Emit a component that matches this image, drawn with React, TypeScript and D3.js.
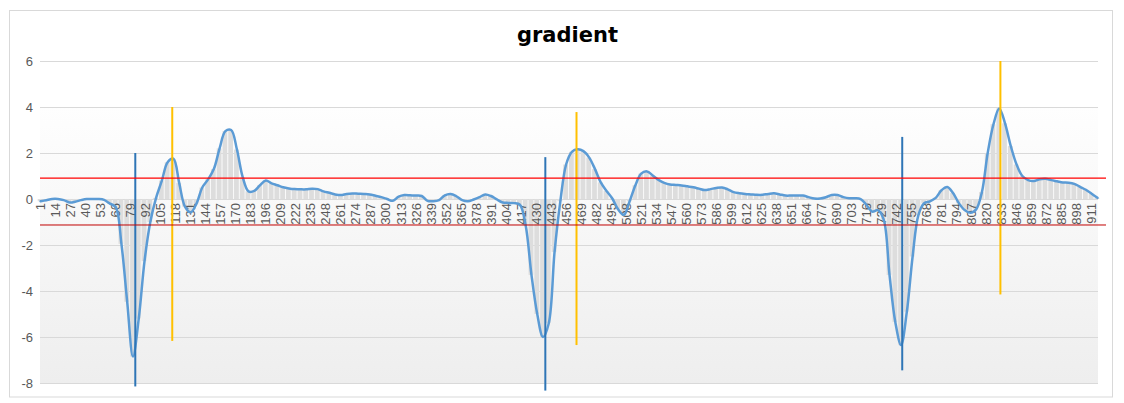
import React from "react";
import * as d3 from "d3";

// gradient values, one sample every 5 categories (categories 1, 6, 11, ... 916)
const sampleStep = 5;
const gradientValues = [
  -0.1, -0.05, 0, 0, -0.05, -0.15, -0.12, -0.05, 0, 0,
  0, -0.04, -0.2, -0.35, -1.95, -4.47, -6.85, -5.2, -2.7, -1.0,
  0.05, 0.8, 1.6, 1.75, 0.7, -0.33, -0.58, -0.2, 0.5, 0.85,
  1.3, 2.2, 2.95, 3.0, 2.15, 0.95, 0.33, 0.35, 0.6, 0.8,
  0.68, 0.6, 0.51, 0.46, 0.43, 0.42, 0.42, 0.45, 0.43, 0.33,
  0.27, 0.2, 0.17, 0.22, 0.24, 0.23, 0.22, 0.2, 0.14, 0.08,
  0.0, -0.08, 0.1, 0.17, 0.16, 0.15, 0.13, -0.08, -0.1, -0.05,
  0.16, 0.22, 0.12, -0.05, -0.1, -0.02, 0.08, 0.2, 0.13, -0.02,
  -0.15, -0.17, -0.18, -0.25, -1.15, -3.3, -5.0, -6.0, -5.4, -2.3,
  -0.1, 1.5, 2.05, 2.16, 2.08, 1.8, 1.3, 0.72, 0.35, 0.02,
  -0.45, -0.7, -0.1, 0.6, 1.1, 1.2, 1.02, 0.83, 0.7, 0.63,
  0.61, 0.59, 0.55, 0.51, 0.45, 0.39, 0.43, 0.48, 0.5, 0.42,
  0.3, 0.25, 0.22, 0.2, 0.18, 0.18, 0.22, 0.25, 0.2, 0.15,
  0.15, 0.15, 0.15, 0.08, 0.02, 0.02, 0.08, 0.17, 0.17, 0.08,
  0.03, 0.03, 0.0, -0.25, -0.55, -0.48, -0.9, -3.3, -5.35, -6.35,
  -4.9, -2.5, -0.7, -0.18, -0.1, 0.05, 0.38, 0.52, 0.26, -0.18,
  -0.48, -0.6, -0.45, 0.3, 2.0, 3.25, 3.94, 3.29, 2.3, 1.5,
  1.0, 0.82, 0.78, 0.86, 0.88, 0.82, 0.77, 0.72, 0.71, 0.66,
  0.53, 0.4, 0.23, 0.05,
];

const categoryCount = 916;
const xTickLabels = [
  1, 14, 27, 40, 53, 66, 79, 92, 105, 118, 131, 144, 157, 170, 183, 196, 209, 222,
  235, 248, 261, 274, 287, 300, 313, 326, 339, 352, 365, 378, 391, 404, 417, 430,
  443, 456, 469, 482, 495, 508, 521, 534, 547, 560, 573, 586, 599, 612, 625, 638,
  651, 664, 677, 690, 703, 716, 729, 742, 755, 768, 781, 794, 807, 820, 833, 846,
  859, 872, 885, 898, 911,
];
const yTicks = [-8, -6, -4, -2, 0, 2, 4, 6];

// vertical marker lines
const blueMarkerCats = [83, 438, 747];
const blueMarkerTop = [2.0, 1.82, 2.7];
const blueMarkerBottom = [-8.15, -8.33, -7.45];
const orangeMarkerCats = [115, 465, 832];
const orangeMarkerTop = [4.0, 3.78, 6.0];
const orangeMarkerBottom = [-6.17, -6.35, -4.15];

// horizontal threshold lines
const upperThreshold = 0.91;
const lowerThreshold = -1.13;

const W = 1124;
const H = 403;
const plotLeft = 40;
const plotRight = 1098;
const thresholdRight = 1106;

export default function App() {
  const x = d3.scaleLinear().domain([0.5, categoryCount + 0.5]).range([plotLeft, plotRight]);
  const y = d3.scaleLinear().domain([-8, 6]).range([383, 61]);

  const points = gradientValues.map((v, i) => ({ c: 1 + i * sampleStep, v }));

  const line = d3
    .line<{ c: number; v: number }>()
    .x((d) => x(d.c))
    .y((d) => y(d.v))
    .curve(d3.curveCatmullRom.alpha(0.5));

  const font = "'Liberation Sans', Arial, sans-serif";

  return (
    <svg
      width={W}
      height={H}
      style={{ position: "fixed", left: 0, top: 0, display: "block", background: "#fff" }}
    >
      <defs>
        <linearGradient id="plotBg" x1="0" y1="0" x2="0" y2="1">
          <stop offset="0" stopColor="#fefefe" />
          <stop offset="1" stopColor="#eeeeee" />
        </linearGradient>
      </defs>
      <rect x={9.5} y={10.5} width={1103} height={386.5} fill="#fff" stroke="#d9d9d9" strokeWidth={1} />
      <rect x={plotLeft} y={y(4)} width={plotRight - plotLeft} height={y(-8) - y(4)} fill="url(#plotBg)" />

      <text
        x={567.5}
        y={42}
        textAnchor="middle"
        fontFamily="'DejaVu Sans', sans-serif"
        fontWeight="bold"
        fontSize={21}
        fill="#000"
      >
        gradient
      </text>

      {yTicks.map((t) => (
        <line key={"g" + t} x1={plotLeft} x2={plotRight} y1={Math.round(y(t)) + 0.5} y2={Math.round(y(t)) + 0.5} stroke="#d9d9d9" strokeWidth={1} />
      ))}

      {points.map((d) => {
        const x0 = x(d.c - sampleStep / 2);
        const x1 = x(d.c + sampleStep / 2);
        const top = Math.min(y(d.v), y(0));
        const h = Math.abs(y(d.v) - y(0));
        return <rect key={"b" + d.c} x={x0} y={top} width={Math.max(0, x1 - x0 - 1)} height={h} fill="#dddddd" />;
      })}

      {yTicks.map((t) => (
        <text
          key={"yl" + t}
          x={33}
          y={y(t)}
          dy="0.35em"
          textAnchor="end"
          fontFamily={font}
          fontSize={13}
          fill="#595959"
        >
          {t}
        </text>
      ))}

      {xTickLabels.map((c) => (
        <text
          key={"xl" + c}
          transform={`translate(${x(c)},${y(0) + 4}) rotate(-90)`}
          dy="0.35em"
          textAnchor="end"
          fontFamily={font}
          fontSize={13}
          fill="#595959"
        >
          {c}
        </text>
      ))}

      <path d={line(points) || ""} fill="none" stroke="#5b9bd5" strokeWidth={2.5} strokeLinejoin="round" strokeLinecap="round" />

      {blueMarkerCats.map((c, i) => (
        <line key={"bm" + c} x1={x(c)} x2={x(c)} y1={y(blueMarkerTop[i])} y2={y(blueMarkerBottom[i])} stroke="#2e75b6" strokeWidth={2} />
      ))}
      {orangeMarkerCats.map((c, i) => (
        <line key={"om" + c} x1={x(c)} x2={x(c)} y1={y(orangeMarkerTop[i])} y2={y(orangeMarkerBottom[i])} stroke="#ffc000" strokeWidth={2} />
      ))}

      <line x1={plotLeft} x2={thresholdRight} y1={y(upperThreshold)} y2={y(upperThreshold)} stroke="#ff0000" strokeWidth={1.25} />
      <line x1={plotLeft} x2={thresholdRight} y1={y(lowerThreshold)} y2={y(lowerThreshold)} stroke="#c00000" strokeWidth={1} />
    </svg>
  );
}
